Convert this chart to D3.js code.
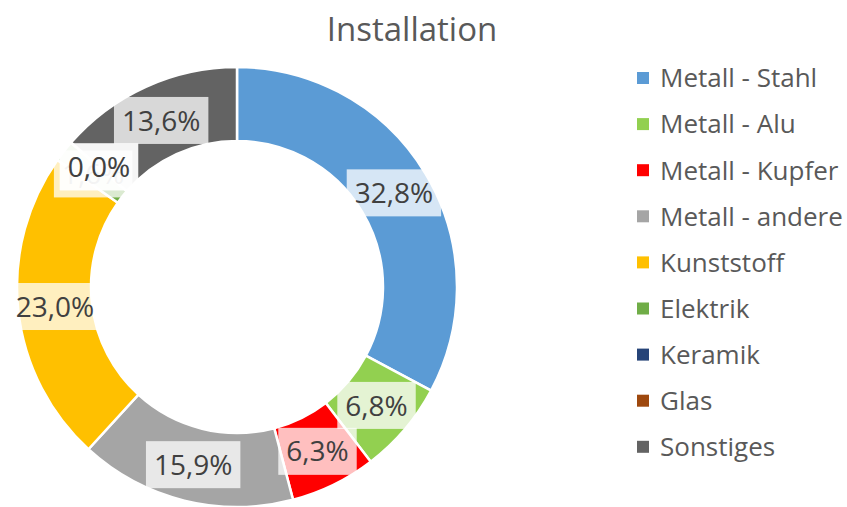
<!DOCTYPE html>
<html>
<head>
<meta charset="utf-8">
<script src="https://cdn.jsdelivr.net/npm/d3@7"></script>
<style>
  body { margin: 0; background: #fff; }
  text { font-family: "Open Sans", sans-serif; }
</style>
</head>
<body>
<div id="chart"></div>
<script>
const categories = ['Metall - Stahl', 'Metall - Alu', 'Metall - Kupfer', 'Metall - andere',
  'Kunststoff', 'Elektrik', 'Keramik', 'Glas', 'Sonstiges'];
const shares = [32.8, 6.8, 6.3, 15.9, 23.0, 1.6, 0.0, 0.0, 13.6];
const colors = ['#5B9BD5', '#92D050', '#FF0000', '#A5A5A5', '#FFC000', '#70AD47', '#264478', '#9E480E', '#636363'];
const title = 'Installation';

const width = 847, height = 507;
const cx = 237, cy = 287;
const outerR = 220, innerR = 146;

const data = categories.map((c, i) => ({name: c, value: shares[i], color: colors[i]}));

const svg = d3.select('#chart').append('svg')
    .attr('width', width)
    .attr('height', height);

svg.append('text')
    .attr('x', 412)
    .attr('y', 41)
    .attr('text-anchor', 'middle')
    .attr('fill', '#595959')
    .style('font-size', '33px')
    .text(title);

const pie = d3.pie().sort(null).value(d => d.value);
const arc = d3.arc().innerRadius(innerR).outerRadius(outerR);
const labelArc = d3.arc().innerRadius((innerR + outerR) / 2).outerRadius((innerR + outerR) / 2);

const g = svg.append('g')
    .attr('transform', 'translate(' + cx + ',' + cy + ')');

const arcs = pie(data);

g.selectAll('.slice')
    .data(arcs)
  .enter().append('path')
    .attr('class', 'slice')
    .attr('d', arc)
    .attr('fill', d => d.data.color)
    .attr('stroke', '#fff')
    .attr('stroke-width', 2.5);

// data labels with translucent boxes (small slices overlap, as in the original)
const fmt = v => v.toFixed(1).replace('.', ',') + '%';
const labels = g.selectAll('.lbl')
    .data(arcs)
  .enter().append('g')
    .attr('class', 'lbl')
    .attr('transform', d => 'translate(' + labelArc.centroid(d) + ')');

labels.each(function(d) {
  const el = d3.select(this);
  const t = el.append('text')
      .attr('text-anchor', 'middle')
      .attr('dy', '0.36em')
      .attr('fill', '#404040')
      .style('font-size', '28px')
      .text(fmt(d.data.value));
  const w = t.node().getComputedTextLength() + 16;
  el.insert('rect', 'text')
      .attr('x', -w / 2)
      .attr('y', -23.5)
      .attr('width', w)
      .attr('height', 47)
      .attr('fill', '#fff')
      .attr('fill-opacity', 0.75);
});

// legend
const legend = svg.append('g')
    .attr('transform', 'translate(637,78)');
const rows = legend.selectAll('.row')
    .data(data)
  .enter().append('g')
    .attr('class', 'row')
    .attr('transform', (d, i) => 'translate(0,' + (i * 46.1) + ')');
rows.append('rect')
    .attr('x', 0)
    .attr('y', -6)
    .attr('width', 12)
    .attr('height', 12)
    .attr('fill', d => d.color);
rows.append('text')
    .attr('x', 23)
    .attr('dy', '0.36em')
    .attr('fill', '#595959')
    .style('font-size', '26px')
    .text(d => d.name);
</script>
</body>
</html>
